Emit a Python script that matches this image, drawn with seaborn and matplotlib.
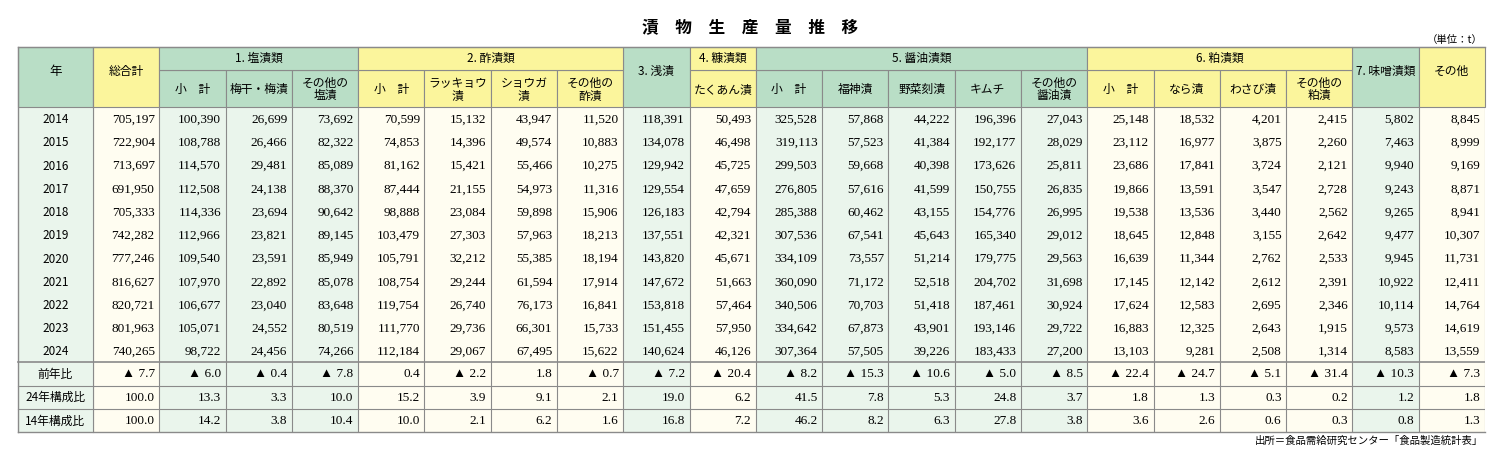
import numpy as np
import pandas as pd
import seaborn as sns
import matplotlib
matplotlib.use("Agg")
import matplotlib.pyplot as plt
from matplotlib.colors import ListedColormap
from matplotlib.patches import Rectangle

years = [2014, 2015, 2016, 2017, 2018, 2019, 2020, 2021, 2022, 2023, 2024]
total = [705197,722904,713697,691950,705333,742282,777246,816627,820721,801963,740265]
shio_sub = [100390,108788,114570,112508,114336,112966,109540,107970,106677,105071,98722]
ume = [26699,26466,29481,24138,23694,23821,23591,22892,23040,24552,24456]
shio_oth = [73692,82322,85089,88370,90642,89145,85949,85078,83648,80519,74266]
su_sub = [70599,74853,81162,87444,98888,103479,105791,108754,119754,111770,112184]
rakkyo = [15132,14396,15421,21155,23084,27303,32212,29244,26740,29736,29067]
shoga = [43947,49574,55466,54973,59898,57963,55385,61594,76173,66301,67495]
su_oth = [11520,10883,10275,11316,15906,18213,18194,17914,16841,15733,15622]
asazuke = [118391,134078,129942,129554,126183,137551,143820,147672,153818,151455,140624]
takuan = [50493,46498,45725,47659,42794,42321,45671,51663,57464,57950,46126]
sho_sub = [325528,319113,299503,276805,285388,307536,334109,360090,340506,334642,307364]
fukujin = [57868,57523,59668,57616,60462,67541,73557,71172,70703,67873,57505]
yasai = [44222,41384,40398,41599,43155,45643,51214,52518,51418,43901,39226]
kimchi = [196396,192177,173626,150755,154776,165340,179775,204702,187461,193146,183433]
sho_oth = [27043,28029,25811,26835,26995,29012,29563,31698,30924,29722,27200]
kasu_sub = [25148,23112,23686,19866,19538,18645,16639,17145,17624,16883,13103]
nara = [18532,16977,17841,13591,13536,12848,11344,12142,12583,12325,9281]
wasabi = [4201,3875,3724,3547,3440,3155,2762,2612,2695,2643,2508]
kasu_oth = [2415,2260,2121,2728,2562,2642,2533,2391,2346,1915,1314]
miso = [5802,7463,9940,9243,9265,9477,9945,10922,10114,9573,8583]
other = [8845,8999,9169,8871,8941,10307,11731,12411,14764,14619,13559]

yoy = [-7.7,-6.0,-0.4,-7.8,0.4,-2.2,1.8,-0.7,-7.2,-20.4,-8.2,-15.3,-10.6,-5.0,-8.5,-22.4,-24.7,-5.1,-31.4,-10.3,-7.3]
share24 = [100.0,13.3,3.3,10.0,15.2,3.9,9.1,2.1,19.0,6.2,41.5,7.8,5.3,24.8,3.7,1.8,1.3,0.3,0.2,1.2,1.8]
share14 = [100.0,14.2,3.8,10.4,10.0,2.1,6.2,1.6,16.8,7.2,46.2,8.2,6.3,27.8,3.8,3.6,2.6,0.6,0.3,0.8,1.3]
row_labels = ["前年比", "24年構成比", "14年構成比"]

sub_labels = ["総合計", "小　計", "梅干・梅漬", "その他の\n塩漬", "小　計", "ラッキョウ\n漬", "ショウガ\n漬",
              "その他の\n酢漬", "3. 浅漬", "たくあん漬", "小　計", "福神漬", "野菜刻漬", "キムチ", "その他の\n醤油漬",
              "小　計", "なら漬", "わさび漬", "その他の\n粕漬", "7. 味噌漬類", "その他"]
# 0 = green, 1 = yellow
col_group = [1, 0, 0, 0, 1, 1, 1, 1, 0, 1, 0, 0, 0, 0, 0, 1, 1, 1, 1, 0, 1]
groups = [("1. 塩漬類", 1, 4), ("2. 酢漬類", 4, 8), ("4. 糠漬類", 9, 10), ("5. 醤油漬類", 10, 15), ("6. 粕漬類", 15, 19)]
tall = [0, 8, 19, 20]

cols = [total, shio_sub, ume, shio_oth, su_sub, rakkyo, shoga, su_oth, asazuke, takuan, sho_sub,
        fukujin, yasai, kimchi, sho_oth, kasu_sub, nara, wasabi, kasu_oth, miso, other]

GH, YH = "#b9dec6", "#fbf59c"
GC, YC = "#eaf5ec", "#fffdf1"
LINE = "#8a8a8a"
JP = "Noto Sans CJK JP"
NUM = ["Liberation Serif", "DejaVu Sans"]

fig = plt.figure(figsize=(15, 4.71), dpi=100)
ax0 = fig.add_axes([0, 0, 1, 1])
ax0.set_xlim(0, 1500); ax0.set_ylim(471, 0); ax0.axis("off")

X0, X1, XT = 18, 93, 1485
top, mid, hb, bot = 47, 70, 107, 432
cw = (XT - X1) / 21
nrow = 14
rh = (bot - hb) / nrow

# body via seaborn heatmap
grid = pd.DataFrame(np.tile(col_group, (nrow, 1)))
axh = fig.add_axes([X1 / 1500, 1 - bot / 471, (XT - X1) / 1500, (bot - hb) / 471])
sns.heatmap(grid, ax=axh, cmap=ListedColormap([GC, YC]), vmin=0, vmax=1, cbar=False,
            xticklabels=False, yticklabels=False, linewidths=0)
axh.set_zorder(0)
for j, col in enumerate(cols):
    for i, v in enumerate(col):
        axh.text(j + 0.93, i + 0.55, f"{v:,}", ha="right", va="center", fontsize=9.5, family=NUM)
    for k, arr in enumerate([yoy, share24, share14]):
        v = arr[j]
        s = f"▲ {abs(v):.1f}" if v < 0 else f"{v:.1f}"
        axh.text(j + 0.93, 11 + k + 0.52, s, ha="right", va="center", fontsize=9.5, family=NUM)
for j in range(22):
    axh.axvline(j, color=LINE, lw=0.8)
for r in [11, 12, 13]:
    axh.axhline(r, color=LINE, lw=1.2 if r == 11 else 0.8)

# year column
ax0.add_patch(Rectangle((X0, hb), X1 - X0, bot - hb, fc=GC, ec="none"))
for i, y in enumerate(years):
    ax0.text((X0 + X1) / 2, hb + (i + 0.55) * rh, str(y), ha="center", va="center", fontsize=8.5, family=JP)
for k, lab in enumerate(row_labels):
    ax0.text((X0 + X1) / 2, hb + (11 + k + 0.52) * rh, lab, ha="center", va="center", fontsize=8.5, family=JP)

# header
ax0.add_patch(Rectangle((X0, top), X1 - X0, hb - top, fc=GH, ec=LINE, lw=0.8))
ax0.text((X0 + X1) / 2, (top + hb) / 2 - 6, "年", ha="center", va="center", fontsize=9, family=JP)
for j in range(21):
    x = X1 + j * cw
    c = GH if col_group[j] == 0 else YH
    if j in tall:
        ax0.add_patch(Rectangle((x, top), cw, hb - top, fc=c, ec=LINE, lw=0.8))
        ax0.text(x + cw / 2, (top + hb) / 2 - 6, sub_labels[j], ha="center", va="center", fontsize=8.5, family=JP)
    else:
        ax0.add_patch(Rectangle((x, mid), cw, hb - mid, fc=c, ec=LINE, lw=0.8))
        ax0.text(x + cw / 2, (mid + hb) / 2 + 1, sub_labels[j], ha="center", va="center", fontsize=8.5,
                 family=JP, linespacing=1.0)
for name, a, b in groups:
    c = GH if col_group[a] == 0 else YH
    ax0.add_patch(Rectangle((X1 + a * cw, top), (b - a) * cw, mid - top, fc=c, ec=LINE, lw=0.8))
    ax0.text(X1 + (a + b) / 2 * cw, (top + mid) / 2, name, ha="center", va="center", fontsize=8.5, family=JP)

# outer frame and lines
ax0.plot([X0, X0], [top, bot], color=LINE, lw=1)
ax0.plot([X1, X1], [top, bot], color=LINE, lw=0.8)
ax0.plot([X0, XT], [bot, bot], color=LINE, lw=1)
ax0.plot([X0, XT], [top, top], color=LINE, lw=1)
for r in [11, 12, 13]:
    ax0.plot([X0, X1], [hb + r * rh] * 2, color=LINE, lw=1.2 if r == 11 else 0.8)
ax0.set_zorder(1); ax0.patch.set_visible(False)
axh.set_zorder(0)

ax0.text(750, 27, "漬　物　生　産　量　推　移", ha="center", va="center", fontsize=12, family=JP, weight="bold")
ax0.text(1483, 40, "（単位：t）", ha="right", va="center", fontsize=7.5, family=JP)
ax0.text(1483, 441, "出所＝食品需給研究センター「食品製造統計表」", ha="right", va="center", fontsize=7.5, family=JP)

fig.savefig("out.png", dpi=100)
